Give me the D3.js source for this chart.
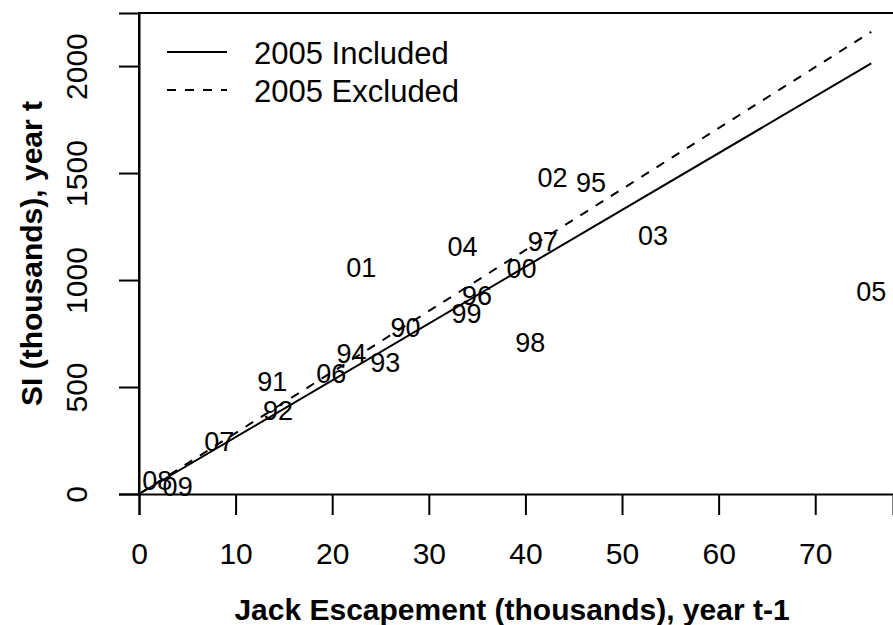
<!DOCTYPE html>
<html>
<head>
<meta charset="utf-8">
<script src="https://cdn.jsdelivr.net/npm/d3@7"></script>
<style>
  body { margin: 0; background: #fff; }
  svg { font-family: "Liberation Sans", Arial, Helvetica, sans-serif; }
</style>
</head>
<body>
<svg id="chart" width="893" height="625"></svg>
<script>
// year labels with jack escapement (x, thousands) and SI (y, thousands)
var years = ["90","91","92","93","94","95","96","97","98","99","00","01","02","03","04","05","06","07","08","09"];
var jacks = [27.6, 13.8, 14.4, 25.5, 22.0, 46.8, 35.0, 41.8, 40.5, 33.9, 39.6, 23.0, 42.8, 53.2, 33.5, 75.8, 19.9, 8.3, 1.9, 4.0];
var siVals = [780, 528, 393, 617, 659, 1458, 930, 1182, 710, 846, 1056, 1061, 1481, 1210, 1159, 949, 565, 248, 65, 37];

// fitted lines through origin
var fitNames = ["2005 Included", "2005 Excluded"];
var fitSlopes = [26.55, 28.5];
var fitDash = [null, "9,9"];

var xTicks = [0, 10, 20, 30, 40, 50, 60, 70];
var yTicks = [0, 500, 1000, 1500, 2000];

var svg = d3.select("#chart");

var x = d3.scaleLinear().domain([0, 78.05]).range([139, 893]);
var y = d3.scaleLinear().domain([0, 2248]).range([494, 13]);

// box: top and left edges (right side is cropped)
svg.append("path")
    .attr("d", "M" + x(0) + "," + y(0) + "V" + y.range()[1] + "H" + x.range()[1])
    .style("fill", "none")
    .style("stroke", "#000")
    .style("stroke-width", 2);

// x axis
var xAxis = svg.append("g")
    .attr("transform", "translate(0," + y(0) + ")")
    .call(d3.axisBottom(x).tickValues(xTicks).tickSize(21).tickPadding(28));
xAxis.select(".domain").style("stroke-width", 2);
xAxis.selectAll(".tick line").style("stroke-width", 2);
xAxis.selectAll(".tick text").style("font-size", "30px").style("fill", "#000");

// y axis with rotated labels
var yAxis = svg.append("g")
    .attr("transform", "translate(" + x(0) + ",0)")
    .call(d3.axisLeft(y).tickValues(yTicks).tickSize(20).tickFormat(d3.format("d")));
yAxis.select(".domain").style("stroke-width", 2);
yAxis.selectAll(".tick line").style("stroke-width", 2);
yAxis.selectAll(".tick text")
    .attr("x", 0).attr("y", 0).attr("dy", 0)
    .attr("transform", "translate(-52,0) rotate(-90)")
    .style("text-anchor", "middle")
    .style("font-size", "30px")
    .style("fill", "#000");

// axis titles
svg.append("text")
    .attr("x", 512).attr("y", 620)
    .style("text-anchor", "middle")
    .style("font-size", "30px")
    .style("font-weight", "bold")
    .text("Jack Escapement (thousands), year t-1");

svg.append("text")
    .attr("transform", "translate(42," + ((y(0) + y.range()[1]) / 2) + ") rotate(-90)")
    .style("text-anchor", "middle")
    .style("font-size", "30px")
    .style("font-weight", "bold")
    .text("SI (thousands), year t");

// fitted lines from 0 to largest jack value
var xMax = d3.max(jacks);
svg.selectAll("line.fit")
    .data(fitSlopes)
    .join("line")
    .attr("class", "fit")
    .attr("x1", x(0)).attr("y1", y(0))
    .attr("x2", x(xMax))
    .attr("y2", function(d) { return y(d * xMax); })
    .style("stroke", "#000")
    .style("stroke-width", 2)
    .style("stroke-dasharray", function(d, i) { return fitDash[i]; });

// point labels
svg.selectAll("text.yr")
    .data(years)
    .join("text")
    .attr("class", "yr")
    .attr("x", function(d, i) { return x(jacks[i]); })
    .attr("y", function(d, i) { return y(siVals[i]); })
    .attr("dy", "0.36em")
    .style("text-anchor", "middle")
    .style("font-size", "27px")
    .text(function(d) { return d; });

// legend
var legendY = [52, 90];
fitNames.forEach(function(name, i) {
    svg.append("line")
        .attr("x1", 167).attr("x2", 227)
        .attr("y1", legendY[i]).attr("y2", legendY[i])
        .style("stroke", "#000")
        .style("stroke-width", 2)
        .style("stroke-dasharray", fitDash[i]);
    svg.append("text")
        .attr("x", 254).attr("y", legendY[i] + 1)
        .attr("dy", "0.36em")
        .style("font-size", "31px")
        .text(name);
});
</script>
</body>
</html>
